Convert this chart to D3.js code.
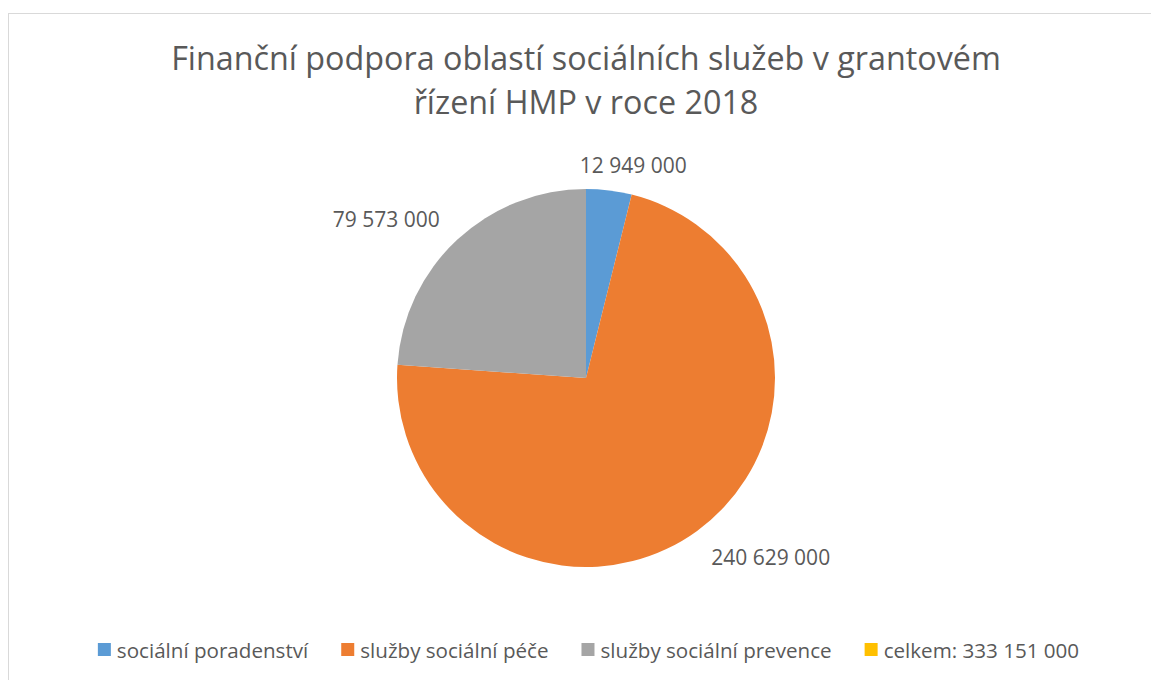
<!DOCTYPE html>
<html><head><meta charset="utf-8">
<script src="https://cdn.jsdelivr.net/npm/d3@7"></script>
<style>body{margin:0;background:#fff}svg{display:block}text{font-family:"Open Sans",sans-serif;fill:#595959}</style>
</head><body>
<script>
const titleLines = ["Finanční podpora oblastí sociálních služeb v grantovém", "řízení HMP v roce 2018"];
const categories = ["sociální poradenství", "služby sociální péče", "služby sociální prevence", "celkem: 333 151 000"];
const values = [12949000, 240629000, 79573000, 0];
const labels = ["12 949 000", "240 629 000", "79 573 000", ""];
const colors = ["#5B9BD5", "#ED7D31", "#A5A5A5", "#FFC000"];

const W = 1151, H = 680;
const svg = d3.select("body").append("svg").attr("width", W).attr("height", H);
svg.append("rect").attr("x", 8.5).attr("y", 13.5).attr("width", W).attr("height", H)
  .attr("fill", "#fff").attr("stroke", "#d9d9d9").attr("stroke-width", 1);

const title = svg.append("g");
titleLines.forEach((t, i) => {
  title.append("text").attr("x", 586).attr("y", 70 + i * 44).attr("text-anchor", "middle")
    .attr("font-size", 32.3).text(t);
});

const cx = 586, cy = 378, r = 189;
const pie = d3.pie().sort(null).value(d => d)(values);
const arc = d3.arc().innerRadius(0).outerRadius(r);
const g = svg.append("g").attr("transform", `translate(${cx},${cy})`);
g.selectAll("path").data(pie).enter().append("path")
  .attr("d", arc).attr("fill", (d, i) => colors[i]);

// best-fit style label placement: along slice mid-angle, with a layout nudge per slice
const R = r + 35;
const nudge = [[20, 17], [53, 6], [-47, 13], [0, 0]];
g.selectAll("text.lbl").data(pie.filter(d => d.value > 0)).enter().append("text")
  .attr("class", "lbl").attr("font-size", 21)
  .attr("text-anchor", "middle")
  .attr("x", d => Math.sin((d.startAngle + d.endAngle) / 2) * R + nudge[d.index][0])
  .attr("y", d => -Math.cos((d.startAngle + d.endAngle) / 2) * R + nudge[d.index][1])
  .text(d => labels[d.index]);

// legend
const gap = 33;
const leg = svg.append("g");
let x = 0;
categories.forEach((c, i) => {
  const it = leg.append("g").attr("transform", `translate(${x},0)`);
  it.append("rect").attr("x", 0).attr("y", -15).attr("width", 13).attr("height", 13).attr("fill", colors[i]);
  const t = it.append("text").attr("x", 19).attr("y", 0).attr("font-size", 20.6).text(c);
  x += 19 + t.node().getComputedTextLength() + gap;
});
const totalW = x - gap;
leg.attr("transform", `translate(${(97 + 1080 - totalW) / 2},658)`);
</script>
</body></html>
